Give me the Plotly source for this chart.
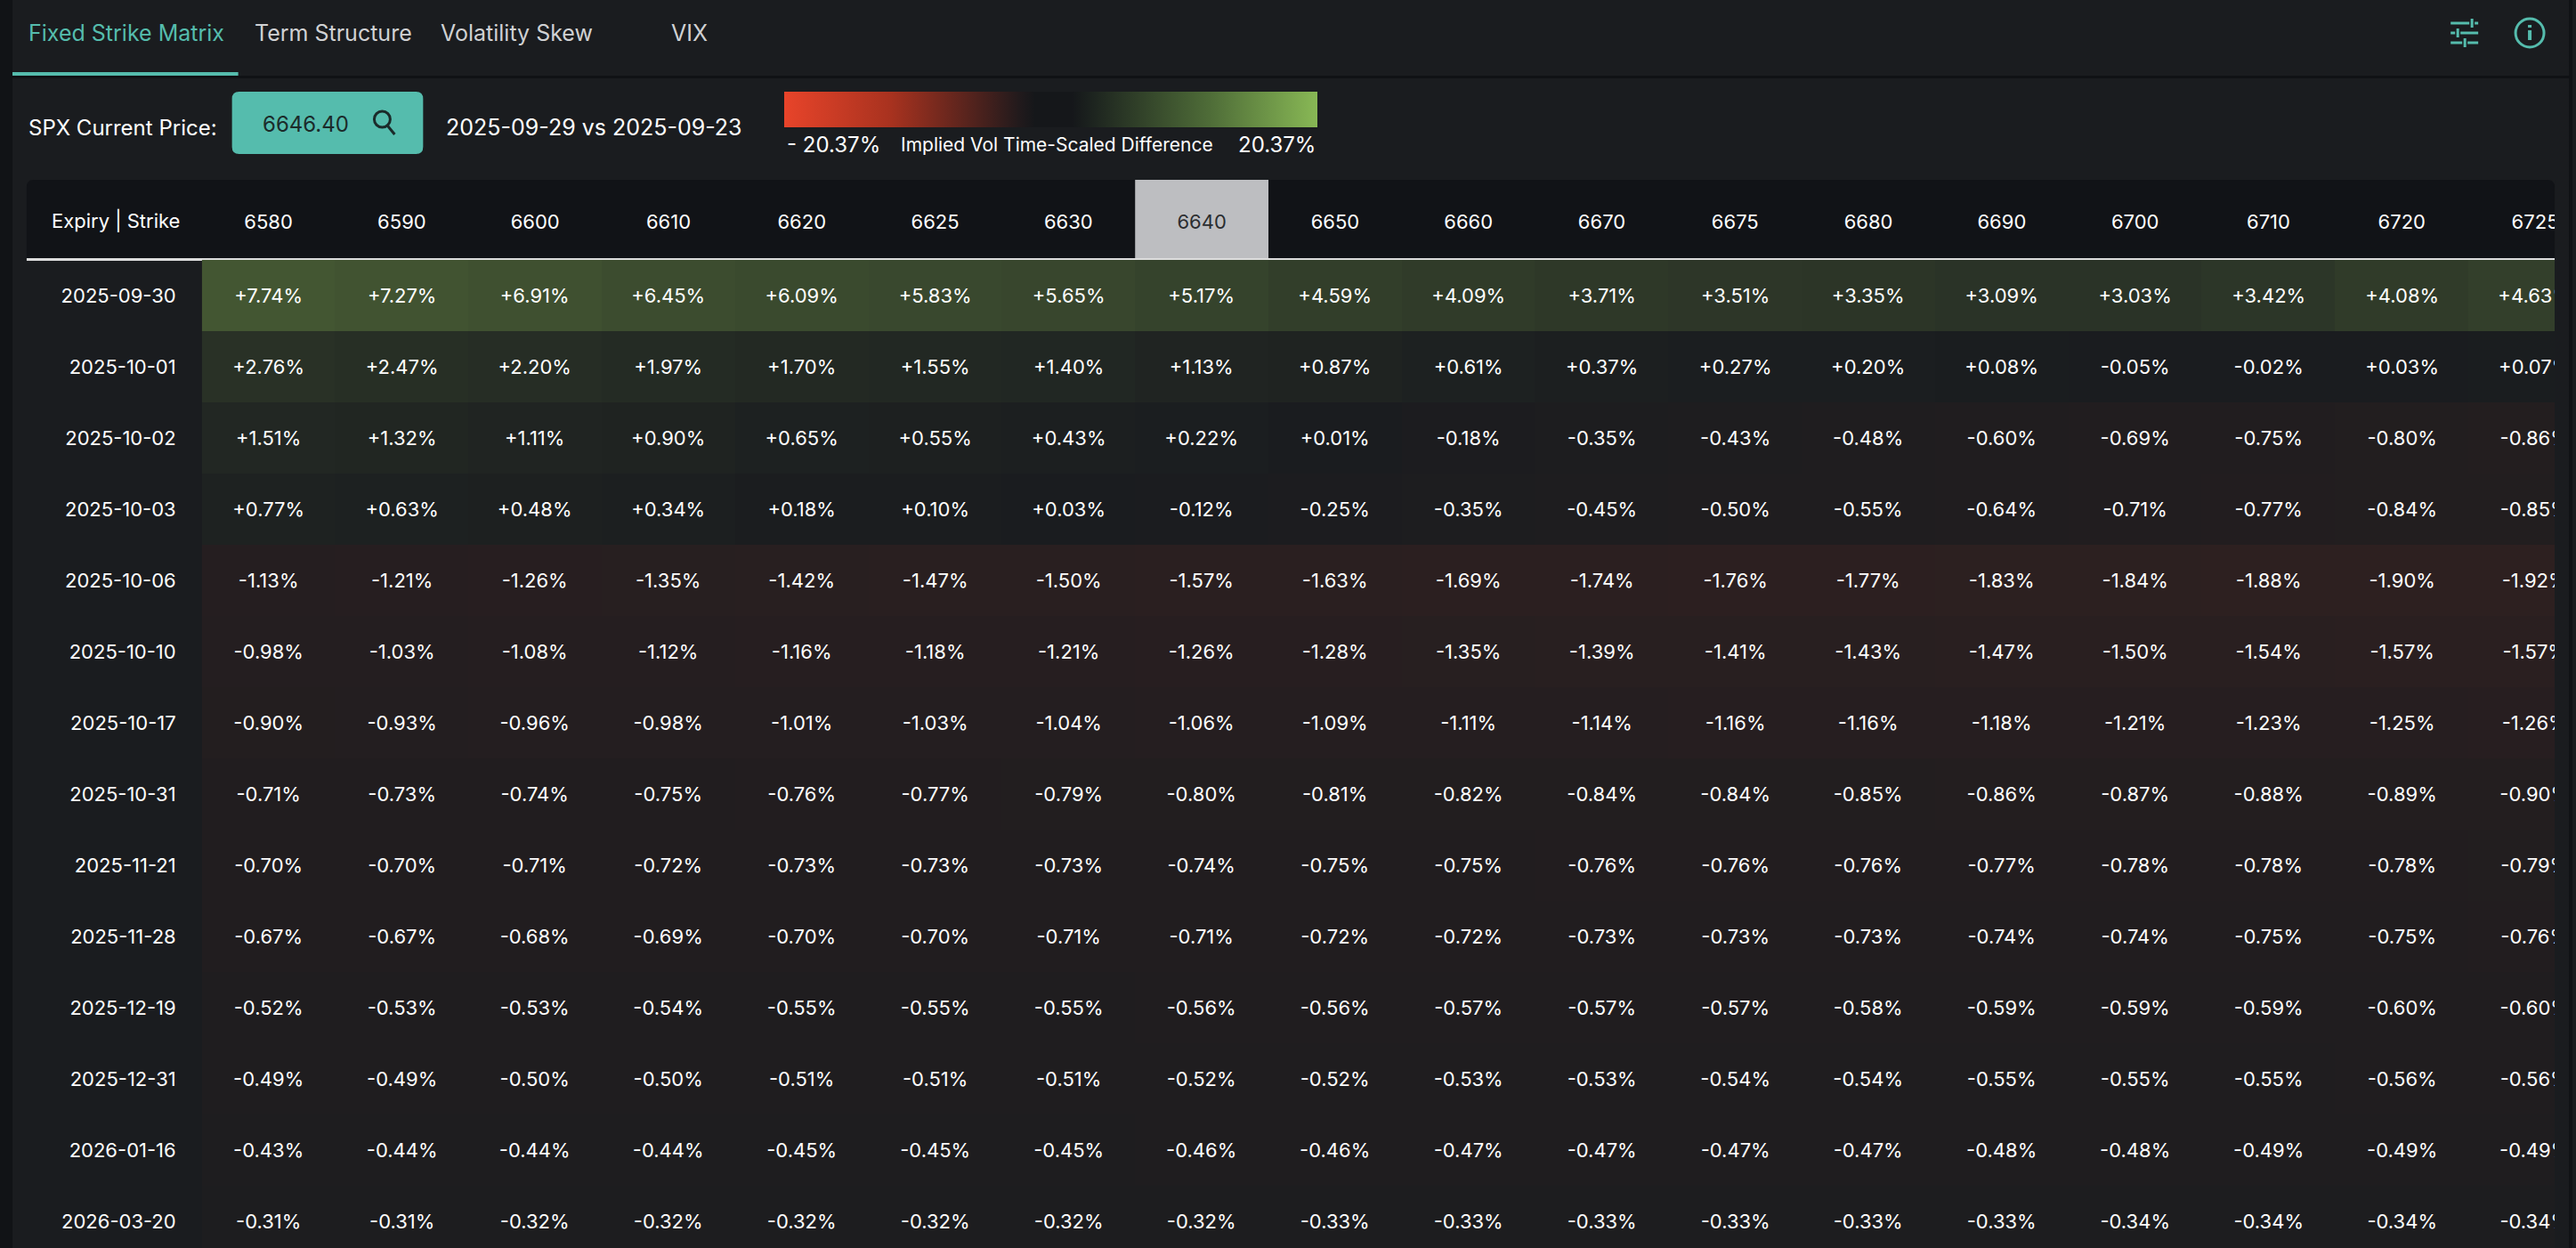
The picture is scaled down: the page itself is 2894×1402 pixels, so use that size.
import plotly.graph_objects as go

# CONFIG
W, H = 2894, 1402
FONT = "Inter"

# --- DATA ---
STRIKES = ["6580", "6590", "6600", "6610", "6620", "6625", "6630", "6640", "6650",
           "6660", "6670", "6675", "6680", "6690", "6700", "6710", "6720", "6725"]
EXPIRIES = ["2025-09-30", "2025-10-01", "2025-10-02", "2025-10-03", "2025-10-06",
            "2025-10-10", "2025-10-17", "2025-10-31", "2025-11-21", "2025-11-28",
            "2025-12-19", "2025-12-31", "2026-01-16", "2026-03-20"]

# implied vol time-scaled difference (%), one list per expiry
d_0930 = [7.74, 7.27, 6.91, 6.45, 6.09, 5.83, 5.65, 5.17, 4.59, 4.09, 3.71, 3.51, 3.35, 3.09, 3.03, 3.42, 4.08, 4.63]
d_1001 = [2.76, 2.47, 2.20, 1.97, 1.70, 1.55, 1.40, 1.13, 0.87, 0.61, 0.37, 0.27, 0.20, 0.08, -0.05, -0.02, 0.03, 0.07]
d_1002 = [1.51, 1.32, 1.11, 0.90, 0.65, 0.55, 0.43, 0.22, 0.01, -0.18, -0.35, -0.43, -0.48, -0.60, -0.69, -0.75, -0.80, -0.86]
d_1003 = [0.77, 0.63, 0.48, 0.34, 0.18, 0.10, 0.03, -0.12, -0.25, -0.35, -0.45, -0.50, -0.55, -0.64, -0.71, -0.77, -0.84, -0.85]
d_1006 = [-1.13, -1.21, -1.26, -1.35, -1.42, -1.47, -1.50, -1.57, -1.63, -1.69, -1.74, -1.76, -1.77, -1.83, -1.84, -1.88, -1.90, -1.92]
d_1010 = [-0.98, -1.03, -1.08, -1.12, -1.16, -1.18, -1.21, -1.26, -1.28, -1.35, -1.39, -1.41, -1.43, -1.47, -1.50, -1.54, -1.57, -1.57]
d_1017 = [-0.90, -0.93, -0.96, -0.98, -1.01, -1.03, -1.04, -1.06, -1.09, -1.11, -1.14, -1.16, -1.16, -1.18, -1.21, -1.23, -1.25, -1.26]
d_1031 = [-0.71, -0.73, -0.74, -0.75, -0.76, -0.77, -0.79, -0.80, -0.81, -0.82, -0.84, -0.84, -0.85, -0.86, -0.87, -0.88, -0.89, -0.90]
d_1121 = [-0.70, -0.70, -0.71, -0.72, -0.73, -0.73, -0.73, -0.74, -0.75, -0.75, -0.76, -0.76, -0.76, -0.77, -0.78, -0.78, -0.78, -0.79]
d_1128 = [-0.67, -0.67, -0.68, -0.69, -0.70, -0.70, -0.71, -0.71, -0.72, -0.72, -0.73, -0.73, -0.73, -0.74, -0.74, -0.75, -0.75, -0.76]
d_1219 = [-0.52, -0.53, -0.53, -0.54, -0.55, -0.55, -0.55, -0.56, -0.56, -0.57, -0.57, -0.57, -0.58, -0.59, -0.59, -0.59, -0.60, -0.60]
d_1231 = [-0.49, -0.49, -0.50, -0.50, -0.51, -0.51, -0.51, -0.52, -0.52, -0.53, -0.53, -0.54, -0.54, -0.55, -0.55, -0.55, -0.56, -0.56]
d_0116 = [-0.43, -0.44, -0.44, -0.44, -0.45, -0.45, -0.45, -0.46, -0.46, -0.47, -0.47, -0.47, -0.47, -0.48, -0.48, -0.49, -0.49, -0.49]
d_0320 = [-0.31, -0.31, -0.32, -0.32, -0.32, -0.32, -0.32, -0.32, -0.33, -0.33, -0.33, -0.33, -0.33, -0.33, -0.34, -0.34, -0.34, -0.34]

SPOT = "6646.40"
DATE_NOW, DATE_REF = "2025-09-29", "2025-09-23"
SCALE_MAX = 20.37
ATM_STRIKE = "6640"

# --- COLOURS ---
BG = "#1a1c1f"
HEADER_BG = "#111317"
TEAL = "#55bcad"
RED = "#e5432a"
GREEN = "#86b552"

# layout in pixels
COL_W, ROW_H = 150, 80
GRID_X0, GRID_X1 = 227, 2874
GRID_Y0 = 292
PANEL_X0 = 30


def fx(x):
    return x / W


def fy(y):
    return 1 - y / H


def rect(x0, y0, x1, y1, color, layer="below"):
    return dict(type="rect", xref="paper", yref="paper", x0=fx(x0), x1=fx(x1),
                y0=fy(y1), y1=fy(y0), fillcolor=color, line_width=0, layer=layer)


def rounded(x0, y0, x1, y1, r, color, top_only=False):
    rx, ry = r / W, r / H
    a, b, c, d = fx(x0), fx(x1), fy(y0), fy(y1)
    if top_only:
        p = (f"M{a},{d} L{a},{c - ry} Q{a},{c} {a + rx},{c} L{b - rx},{c} "
             f"Q{b},{c} {b},{c - ry} L{b},{d} Z")
    else:
        p = (f"M{a + rx},{c} L{b - rx},{c} Q{b},{c} {b},{c - ry} L{b},{d + ry} "
             f"Q{b},{d} {b - rx},{d} L{a + rx},{d} Q{a},{d} {a},{d + ry} "
             f"L{a},{c - ry} Q{a},{c} {a + rx},{c} Z")
    return dict(type="path", xref="paper", yref="paper", path=p,
                fillcolor=color, line_width=0, layer="below")


def line(x0, y0, x1, y1, color, width=3):
    return dict(type="line", xref="paper", yref="paper", x0=fx(x0), x1=fx(x1),
                y0=fy(y0), y1=fy(y1), line=dict(color=color, width=width), layer="above")


def text(x, y, s, size, color="#ffffff", anchor="left"):
    return dict(xref="paper", yref="paper", x=fx(x), y=fy(y), text=s, showarrow=False,
                xanchor=anchor, yanchor="middle",
                font=dict(family=FONT, size=size, color=color))


def make_figure():
    rows = [d_0930, d_1001, d_1002, d_1003, d_1006, d_1010, d_1017,
            d_1031, d_1121, d_1128, d_1219, d_1231, d_0116, d_0320]
    labels = [[f"{v:+.2f}%" for v in r] for r in rows]

    fig = go.Figure()

    fig.add_trace(go.Heatmap(
        z=rows, x=STRIKES, y=EXPIRIES, text=labels, texttemplate="%{text}",
        textfont=dict(family=FONT, size=22, color="#ffffff"),
        zmin=-SCALE_MAX, zmax=SCALE_MAX,
        colorscale=[[0, RED], [0.5, BG], [1, GREEN]],
        showscale=False, hoverinfo="skip",
    ))

    # dummy trace only to draw the legend gradient bar
    legend_scale = [[0, "#e8442a"], [0.2, "#a8321f"], [0.44, "#221a1c"], [0.47, "#15171a"],
                    [0.54, "#15171a"], [0.57, "#1b211e"], [0.8, "#4f6d38"], [1, "#88b855"]]
    fig.add_trace(go.Scatter(
        x=[STRIKES[0]], y=[EXPIRIES[0]], mode="markers", hoverinfo="skip",
        marker=dict(size=1, opacity=0, color=[0], cmin=-SCALE_MAX, cmax=SCALE_MAX,
                    colorscale=legend_scale, showscale=True,
                    colorbar=dict(orientation="h", x=fx(1182.5), xanchor="center",
                                  y=fy(123), yanchor="middle", len=599, lenmode="pixels",
                                  thickness=40, thicknessmode="pixels", xpad=0, ypad=0,
                                  showticklabels=False, ticks="", outlinewidth=0)),
    ))

    atm = STRIKES.index(ATM_STRIKE)
    ticktext = [f"<span style='color:#2b2d30'>{s}</span>" if s == ATM_STRIKE else s
                for s in STRIKES]

    shapes = [
        rect(0, 0, 14, H, "#111316"),
        rect(2890, 0, W, H, "#111316"),
        rect(14, 85, 2890, 88, "#101215"),
        rect(14, 81, 268, 85, TEAL),
        rounded(261, 103, 476, 173, 8, TEAL),
        dict(type="circle", xref="paper", yref="paper", x0=fx(421), x1=fx(439),
             y0=fy(143), y1=fy(125), line=dict(color="#1b2b2a", width=3), layer="above"),
        line(435, 140, 444, 151, "#1b2b2a", 3),
        rounded(PANEL_X0, 202, GRID_X1, 290, 8, HEADER_BG, top_only=True),
        dict(type="rect", xref="x", yref="paper", x0=atm - 0.5, x1=atm + 0.5,
             y0=fy(290), y1=fy(202), fillcolor="#bdbec1", line_width=0, layer="below"),
        rect(PANEL_X0, 290, GRID_X1, 293, "#dcdcdc"),
        # panel is scrolled: hide header text spilling past its right edge
        rect(GRID_X1, 202, 2890, 292, BG, layer="above"),
        # tune icon
        line(2757, 26, 2778, 26, TEAL), line(2784, 26, 2788, 26, TEAL),
        line(2781, 21, 2781, 31, TEAL),
        line(2757, 37, 2762, 37, TEAL), line(2768, 37, 2788, 37, TEAL),
        line(2765, 32, 2765, 42, TEAL),
        line(2757, 48, 2770, 48, TEAL), line(2776, 48, 2788, 48, TEAL),
        line(2773, 43, 2773, 53, TEAL),
        # info icon
        dict(type="circle", xref="paper", yref="paper", x0=fx(2830), x1=fx(2862),
             y0=fy(53), y1=fy(21), line=dict(color=TEAL, width=3), layer="above"),
        line(2846, 34, 2846, 45, TEAL, 4), line(2846, 28, 2846, 31, TEAL, 4),
    ]

    annotations = [
        text(30, 37, "Fixed Strike Matrix", 25, TEAL),
        text(284, 37, "Term Structure", 25, "#d0d1d3"),
        text(494, 37, "Volatility Skew", 25, "#d0d1d3"),
        text(753, 37, "VIX", 25, "#d0d1d3"),
        text(30, 143, "SPX Current Price:", 24),
        text(344, 139, SPOT, 24, "#1b2b2a", "center"),
        text(500, 143, f"{DATE_NOW} vs {DATE_REF}", 25),
        text(883, 163, f"- {SCALE_MAX:.2f}%", 24),
        text(1011, 163, "Implied Vol Time-Scaled Difference", 21),
        text(1482, 163, f"{SCALE_MAX:.2f}%", 24, anchor="right"),
        text(130, 247, "Expiry | Strike", 22, anchor="center"),
    ]

    fig.update_layout(
        width=W, height=H, autosize=False,
        margin=dict(l=0, r=0, t=0, b=0, pad=0),
        paper_bgcolor=BG, plot_bgcolor=BG,
        font=dict(family=FONT, color="#ffffff"),
        showlegend=False,
        shapes=shapes, annotations=annotations,
        xaxis=dict(type="category", domain=[fx(GRID_X0), fx(GRID_X1)],
                   range=[-0.5, -0.5 + (GRID_X1 - GRID_X0) / COL_W],
                   side="top", tickvals=STRIKES, ticktext=ticktext,
                   tickfont=dict(family=FONT, size=22, color="#ffffff"),
                   ticks="", showgrid=False, zeroline=False, showline=False,
                   ticklabelstandoff=30, fixedrange=True),
        yaxis=dict(type="category", domain=[0, fy(GRID_Y0)],
                   range=[-0.5 + (H - GRID_Y0) / ROW_H, -0.5],
                   tickfont=dict(family=FONT, size=22, color="#ffffff"),
                   ticks="", showgrid=False, zeroline=False, showline=False,
                   ticklabelstandoff=28, fixedrange=True),
    )
    return fig


if __name__ == "__main__":
    fig = make_figure()
    fig.write_html("out.html", config={"displayModeBar": False},
                   post_script="document.body.style.margin='0';document.body.style.overflow='hidden';")
